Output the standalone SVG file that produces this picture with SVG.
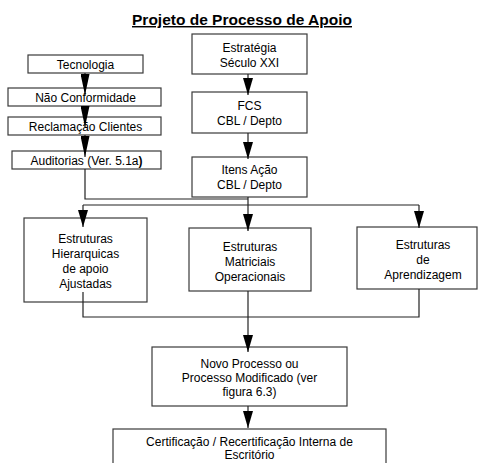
<svg xmlns="http://www.w3.org/2000/svg" width="478" height="463" viewBox="0 0 478 463">
<style>
.box{fill:#fff;stroke:#3a3a3a;stroke-width:1.2}
.t{font-family:"Liberation Sans",Arial,sans-serif;font-size:12px;fill:#000;text-anchor:middle}
.ttl{font-family:"Liberation Sans",Arial,sans-serif;font-size:14.5px;font-weight:bold;fill:#000;text-anchor:middle;text-decoration:underline}
.ln{fill:none;stroke:#222;stroke-width:1.2}
.ah{marker-end:url(#arr)}
.ahl{marker-end:url(#arrl)}
</style>
<defs>
<marker id="arr" markerUnits="userSpaceOnUse" markerWidth="17" markerHeight="10" refX="17" refY="5" orient="auto">
<path d="M0,0 L17,5 L0,10 Z" fill="#000"/>
</marker>
<marker id="arrl" markerUnits="userSpaceOnUse" markerWidth="21" markerHeight="9" refX="21" refY="4.5" orient="auto">
<path d="M0,0 L21,4.5 L0,9 Z" fill="#000"/>
</marker>
</defs>
<rect width="478" height="463" fill="#fff"/>
<text class="ttl" x="242" y="25" textLength="220" lengthAdjust="spacingAndGlyphs">Projeto de Processo de Apoio</text>

<g id="n-tecnologia"><rect class="box" x="28" y="55" width="115" height="18"/><text class="t" x="85.5" y="68.5">Tecnologia</text></g>
<g id="n-naoconf"><rect class="box" x="8" y="88" width="153" height="18"/><text class="t" x="85.5" y="101.5">Não Conformidade</text></g>
<g id="n-reclamacao"><rect class="box" x="8" y="117" width="153" height="18"/><text class="t" x="85.5" y="130.5">Reclamação Clientes</text></g>
<g id="n-auditorias"><rect class="box" x="12" y="151" width="149" height="18"/><text class="t" x="86.5" y="164.5">Auditorias (Ver. 5.1a<tspan font-weight="bold">)</tspan></text></g>

<g id="n-estrategia"><rect class="box" x="192" y="34" width="115" height="40"/><text class="t" x="249.5" y="52">Estratégia</text><text class="t" x="249.5" y="67">Século XXI</text></g>
<g id="n-fcs"><rect class="box" x="192" y="92" width="115" height="41"/><text class="t" x="249.5" y="110">FCS</text><text class="t" x="249.5" y="125">CBL / Depto</text></g>
<g id="n-itens"><rect class="box" x="192" y="157" width="115" height="40"/><text class="t" x="249.5" y="174">Itens Ação</text><text class="t" x="249.5" y="189">CBL / Depto</text></g>

<g id="n-hierarquicas"><rect class="box" x="24" y="218" width="123" height="84"/><text class="t" x="85.5" y="243">Estruturas</text><text class="t" x="85.5" y="258">Hierarquicas</text><text class="t" x="85.5" y="273">de apoio</text><text class="t" x="85.5" y="288">Ajustadas</text></g>
<g id="n-matriciais"><rect class="box" x="189" y="228" width="122" height="63"/><text class="t" x="250" y="251">Estruturas</text><text class="t" x="250" y="266">Matriciais</text><text class="t" x="250" y="281">Operacionais</text></g>
<g id="n-aprendizagem"><rect class="box" x="357" y="227" width="120" height="62"/><text class="t" x="423" y="249">Estruturas</text><text class="t" x="423" y="264">de</text><text class="t" x="423" y="279">Aprendizagem</text></g>

<g id="n-novo"><rect class="box" x="152" y="347" width="195" height="59"/><text class="t" x="249.5" y="368">Novo Processo ou</text><text class="t" x="249.5" y="382">Processo Modificado (ver</text><text class="t" x="249.5" y="396">figura 6.3)</text></g>
<g id="n-cert"><rect class="box" x="113" y="429" width="273" height="40"/><text class="t" x="249.5" y="446">Certificação / Recertificação Interna de</text><text class="t" x="249.5" y="459">Escritório</text></g>

<g id="connectors">
<path class="ln ahl" d="M85,73 V95"/>
<path class="ln ahl" d="M85,106 V127"/>
<path class="ln ahl" d="M85,135 V157"/>
<path class="ln" d="M85,169 V199 H248"/>
<path class="ln ah" d="M248,74 V95"/>
<path class="ln ah" d="M248,133 V159"/>
<path class="ln ah" d="M248,197 V231"/>
<path class="ln" d="M83,205 H419"/>
<path class="ln ah" d="M83,205 V227"/>
<path class="ln ah" d="M419,205 V228"/>
<path class="ln" d="M83,292 V317 H419 V289"/>
<path class="ln ah" d="M248,291 V352"/>
<path class="ln ah" d="M248,406 V428"/>
</g>
</svg>
